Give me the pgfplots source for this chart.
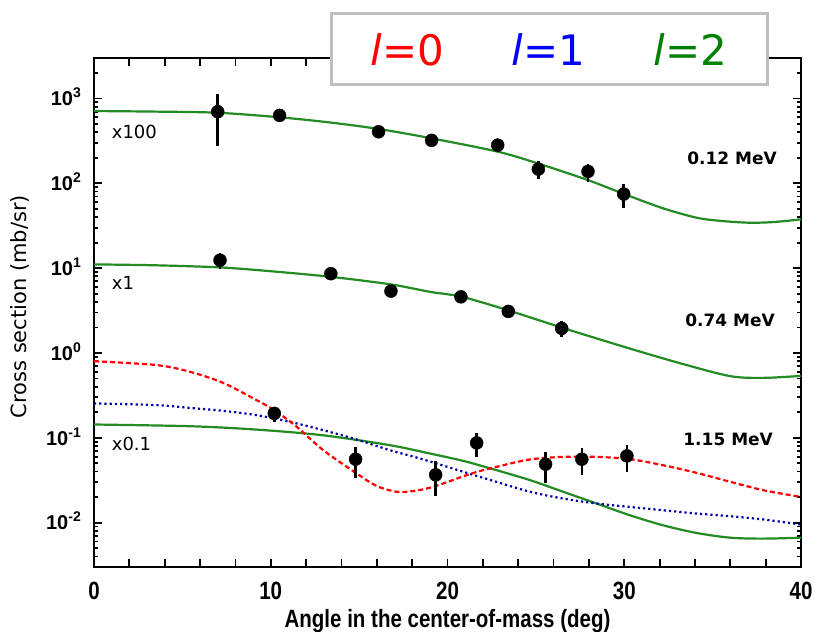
\documentclass[border=0pt]{standalone}
\usepackage{fontspec}
\setmainfont{DejaVu Sans}
\newfontfamily\arialfont{Liberation Sans}
\newfontfamily\narrowfont[FakeStretch=0.82]{Liberation Sans}
\usepackage{pgfplots}
\pgfplotsset{compat=1.18}
\definecolor{cGreen}{RGB}{34,139,34}
\definecolor{cRed}{RGB}{255,0,0}
\definecolor{cNavy}{RGB}{0,0,170}
\definecolor{cLegGreen}{RGB}{0,128,0}
\definecolor{cLegBlue}{RGB}{0,0,255}
\newcommand{\dec}[1]{10\raisebox{0.4em}{\fontsize{14bp}{14bp}\selectfont #1}}

\begin{document}
\begin{tikzpicture}
\useasboundingbox (-94bp,-65bp) rectangle (721bp,567bp);
\begin{axis}[
  at={(0,0)}, anchor=south west,
  width=707bp, height=509bp, scale only axis,
  xmin=0, xmax=40, ymin=0.003, ymax=3000,
  ymode=log,
  clip=false,
  axis line style={line width=2.5bp},
  tick align=inside,
  major tick length=8bp, minor tick length=4.5bp,
  every tick/.style={black, line width=1.8bp},
  xtick={0,2,...,40},
  xticklabels={0,,,,,10,,,,,20,,,,,30,,,,,40},
  xticklabel style={font=\narrowfont\bfseries\fontsize{25bp}{25bp}\selectfont,
                    anchor=base, inner sep=0pt, yshift=-32bp},
  ytick={0.01,0.1,1,10,100,1000},
  yticklabels={\dec{-2},\dec{-1},\dec{0},\dec{1},\dec{2},\dec{3}},
  minor ytick={0.003,0.004,0.005,0.006,0.007,0.008,0.009,
               0.02,0.03,0.04,0.05,0.06,0.07,0.08,0.09,
               0.2,0.3,0.4,0.5,0.6,0.7,0.8,0.9,
               2,3,4,5,6,7,8,9,20,30,40,50,60,70,80,90,
               200,300,400,500,600,700,800,900,2000,3000},
  yticklabel style={font=\arialfont\bfseries\fontsize{20bp}{20bp}\selectfont,
                    anchor=base east, inner sep=0pt, xshift=-13bp, yshift=-7.2bp},
  xlabel={Angle in the center-of-mass (deg)},
  xlabel style={font=\narrowfont\bfseries\fontsize{25bp}{25bp}\selectfont,
                at={(rel axis cs:0.5,0)}, anchor=base, inner sep=0pt, yshift=-60bp},
  ylabel={Cross section (mb/sr)},
  ylabel style={font=\fontsize{21bp}{21bp}\selectfont,
                at={(rel axis cs:-0.1047,0.5118)}, anchor=center, inner sep=0pt},
  every axis plot/.append style={line join=round},
]

% ---- fits, 0.12 MeV (x100) --------------------------------------------
\addplot[cGreen, line width=2.2bp, smooth] coordinates {
  (0,711) (3.5,700) (7,679) (10.5,600) (13.4,520) (16.1,437) (19.1,339)
  (22.84,236) (25.1,172) (27.95,109) (30,74.7) (32.2,50.7) (34.1,39.3)
  (35.5,36) (37.1,34.3) (38.5,35) (40,37.6)};

% ---- fits, 0.74 MeV (x1) ----------------------------------------------
\addplot[cGreen, line width=2.2bp, smooth] coordinates {
  (0,11.07) (3.5,10.8) (7.13,10.2) (10,9.2) (13.4,7.9) (16.8,6.43)
  (19,5.26) (20.8,4.6) (23.4,3.2) (26.5,1.98) (30.3,1.13) (33.2,0.753)
  (36,0.533) (37.9,0.509) (40,0.537)};

% ---- fits, 1.15 MeV (x0.1) --------------------------------------------
\addplot[cGreen, line width=2.2bp, smooth] coordinates {
  (0,0.1435) (5.43,0.137) (9.2,0.125) (12.97,0.107) (16.75,0.0818)
  (19,0.0653) (20.9,0.0534) (22.78,0.0415) (24.67,0.0317) (26.55,0.0231)
  (28.44,0.0168) (30.33,0.0122) (32.2,0.0093) (34.1,0.00755) (36,0.00665)
  (37.87,0.00648) (40,0.00665)};

\addplot[cNavy, line width=2.2bp, dash pattern=on 2.2bp off 3bp, smooth] coordinates {
  (0,0.254) (3.55,0.243) (5.43,0.225) (7.3,0.208) (9.2,0.185) (11.1,0.154)
  (12.97,0.123) (14.86,0.0955) (16.75,0.0714) (18.63,0.0556) (20.9,0.0397)
  (22.78,0.0302) (24.67,0.0231) (26.55,0.0192) (28.44,0.0168) (30.33,0.0153)
  (32.2,0.014) (34.1,0.0128) (36,0.0119) (37.87,0.0109) (40,0.0095)};

\addplot[cRed, line width=2.2bp, dash pattern=on 5bp off 3bp, smooth] coordinates {
  (0,0.80) (3.55,0.72) (5.43,0.60) (7.3,0.445) (9.2,0.278) (10.2,0.212)
  (11.47,0.135) (12.97,0.0715) (14.86,0.038) (16,0.027) (17.2,0.023)
  (18.3,0.024) (19.33,0.027) (21.37,0.038) (22.78,0.0455) (24.67,0.0556)
  (26.55,0.0596) (28.44,0.0596) (30.33,0.056) (32.2,0.0475) (34.1,0.0386)
  (36,0.0303) (37.87,0.0241) (40,0.0201)};

% ---- data ---------------------------------------------------------------
\pgfplotsset{datapts/.style={only marks, mark=*, mark size=6.5bp, black,
  error bars/.cd, y dir=both, y explicit, error mark=none,
  error bar style={line width=2.5bp, black}}}

\addplot[datapts] coordinates {
  (7.0,698) +- (0,421)  (10.5,632) +- (0,0)  (16.1,405) +- (0,0)
  (19.1,321) +- (0,0)   (22.84,282) +- (0,0) (25.14,147) +- (0,34)
  (27.95,138) +- (0,33) (29.97,74.7) +- (0,24)};

\addplot[datapts] coordinates {
  (7.13,12.4) +- (0,2.5) (13.4,8.6) +- (0,0) (16.8,5.36) +- (0,0)
  (20.76,4.59) +- (0,0)  (23.44,3.09) +- (0,0) (26.46,1.95) +- (0,0.4)};

\addplot[datapts] coordinates {
  (10.2,0.194) +- (0,0.039)   (14.8,0.056) +- (0,0.0225)
  (19.33,0.0366) +- (0,0.016) (21.65,0.0871) +- (0,0.027)
  (25.55,0.0489) +- (0,0.0194) (27.6,0.056) +- (0,0.020)
  (30.15,0.0612) +- (0,0.022)};

% ---- annotations --------------------------------------------------------
\node[anchor=west, inner sep=0pt, font=\fontsize{18bp}{18bp}\selectfont]
  at (axis cs:1.0,400) {x100};
\node[anchor=west, inner sep=0pt, font=\fontsize{18bp}{18bp}\selectfont]
  at (axis cs:1.0,6.67) {x1};
\node[anchor=west, inner sep=0pt, font=\fontsize{18bp}{18bp}\selectfont]
  at (axis cs:1.0,0.0849) {x0.1};
\node[anchor=east, inner sep=0pt, font=\bfseries\fontsize{17bp}{17bp}\selectfont]
  at (axis cs:38.64,199) {0.12 MeV};
\node[anchor=east, inner sep=0pt, font=\bfseries\fontsize{17bp}{17bp}\selectfont]
  at (axis cs:38.53,2.42) {0.74 MeV};
\node[anchor=east, inner sep=0pt, font=\bfseries\fontsize{17bp}{17bp}\selectfont]
  at (axis cs:38.42,0.0946) {1.15 MeV};

\coordinate (legc) at (rel axis cs:0.6443,1.0179);
\coordinate (leg0) at (rel axis cs:0.4434,0.9862);
\coordinate (leg1) at (rel axis cs:0.6429,0.9862);
\coordinate (leg2) at (rel axis cs:0.8437,0.9862);
\end{axis}

% legend box sits over the top frame line
\node[draw=gray!50, line width=3bp, fill=white, minimum width=436bp,
      minimum height=71bp, inner sep=0pt] at (legc) {};
\begin{scope}[every node/.style={anchor=base, inner sep=0pt,
              font=\fontsize{42bp}{42bp}\selectfont}]
\node[text=cRed] at (leg0) {\textit{l}=0};
\node[text=cLegBlue] at (leg1) {\textit{l}=1};
\node[text=cLegGreen] at (leg2) {\textit{l}=2};
\end{scope}
\end{tikzpicture}
\end{document}
